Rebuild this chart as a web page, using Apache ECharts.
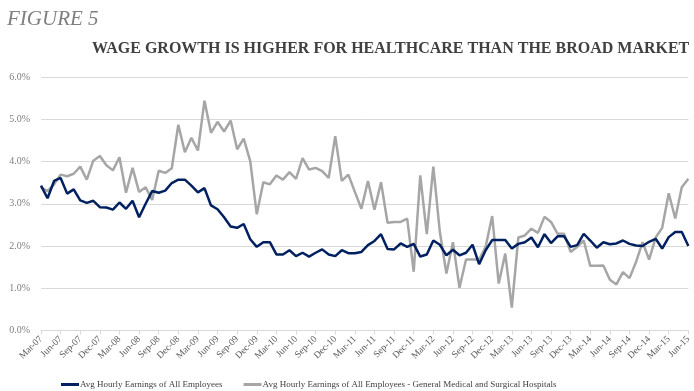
<!DOCTYPE html>
<html>
<head>
<meta charset="utf-8">
<script src="https://cdn.jsdelivr.net/npm/echarts@6/dist/echarts.min.js"></script>
<style>
html,body{margin:0;padding:0;background:#fff;}
#chart{width:694px;height:391px;}
</style>
</head>
<body>
<div id="chart"></div>
<script>
var categories = [
"Mar-07","Apr-07","May-07","Jun-07","Jul-07","Aug-07","Sep-07","Oct-07","Nov-07","Dec-07",
"Jan-08","Feb-08","Mar-08","Apr-08","May-08","Jun-08","Jul-08","Aug-08","Sep-08","Oct-08","Nov-08","Dec-08",
"Jan-09","Feb-09","Mar-09","Apr-09","May-09","Jun-09","Jul-09","Aug-09","Sep-09","Oct-09","Nov-09","Dec-09",
"Jan-10","Feb-10","Mar-10","Apr-10","May-10","Jun-10","Jul-10","Aug-10","Sep-10","Oct-10","Nov-10","Dec-10",
"Jan-11","Feb-11","Mar-11","Apr-11","May-11","Jun-11","Jul-11","Aug-11","Sep-11","Oct-11","Nov-11","Dec-11",
"Jan-12","Feb-12","Mar-12","Apr-12","May-12","Jun-12","Jul-12","Aug-12","Sep-12","Oct-12","Nov-12","Dec-12",
"Jan-13","Feb-13","Mar-13","Apr-13","May-13","Jun-13","Jul-13","Aug-13","Sep-13","Oct-13","Nov-13","Dec-13",
"Jan-14","Feb-14","Mar-14","Apr-14","May-14","Jun-14","Jul-14","Aug-14","Sep-14","Oct-14","Nov-14","Dec-14",
"Jan-15","Feb-15","Mar-15","Apr-15","May-15","Jun-15"
];

var allEmployees = [
3.43,3.13,3.54,3.61,3.24,3.34,3.08,3.02,3.07,2.92,
2.91,2.86,3.03,2.88,3.07,2.68,3.00,3.30,3.26,3.31,3.49,3.57,
3.57,3.43,3.27,3.37,2.96,2.87,2.68,2.46,2.43,2.52,2.16,1.98,
2.09,2.09,1.80,1.80,1.90,1.76,1.84,1.75,1.84,1.92,1.80,1.76,
1.90,1.83,1.83,1.86,2.02,2.12,2.28,1.93,1.92,2.06,1.98,2.05,
1.75,1.80,2.13,2.03,1.78,1.91,1.78,1.84,2.03,1.57,1.90,2.14,
2.14,2.14,1.94,2.05,2.09,2.20,1.97,2.28,2.07,2.23,2.23,1.98,
2.02,2.29,2.13,1.96,2.09,2.04,2.06,2.13,2.05,2.01,2.00,2.10,
2.17,1.94,2.21,2.33,2.33,2.00
];

var hospitals = [
3.39,3.30,3.46,3.69,3.65,3.71,3.88,3.57,4.02,4.13,
3.91,3.79,4.10,3.26,3.85,3.28,3.39,3.09,3.78,3.73,3.84,4.87,
4.22,4.56,4.26,5.44,4.68,4.94,4.71,4.97,4.29,4.54,4.01,2.75,
3.51,3.46,3.67,3.57,3.75,3.59,4.08,3.81,3.85,3.77,3.61,4.60,
3.54,3.69,3.28,2.88,3.54,2.86,3.51,2.55,2.57,2.57,2.65,1.39,
3.67,2.28,3.88,2.33,1.35,2.09,1.01,1.68,1.68,1.68,1.98,2.71,
1.11,1.82,0.54,2.20,2.25,2.41,2.31,2.69,2.57,2.29,2.29,1.86,
1.98,2.13,1.53,1.53,1.54,1.20,1.09,1.38,1.24,1.62,2.09,1.68,
2.20,2.43,3.25,2.65,3.39,3.59
];

var seriesNames = [
"Avg Hourly Earnings of All Employees",
"Avg Hourly Earnings of All Employees - General Medical and Surgical Hospitals"
];
var yTicks = [0,1,2,3,4,5,6];

var serif = "'Liberation Serif','DejaVu Serif',serif";
var chart = echarts.init(document.getElementById('chart'), null, {renderer:'canvas'});
chart.setOption({
  animation:false,
  backgroundColor:'#ffffff',
  title:[
    {text:'FIGURE 5', left:7, top:9, padding:0, textStyle:{fontFamily:serif, fontStyle:'italic', fontWeight:'normal', fontSize:21, color:'#7f7f7f'}},
    {text:'WAGE GROWTH IS HIGHER FOR HEALTHCARE THAN THE BROAD MARKET', left:92, top:41, padding:0, textStyle:{fontFamily:serif, fontWeight:'bold', fontSize:16, color:'#404040'}}
  ],
  legend:{
    left:61, top:380, padding:0, width:1400, itemWidth:18, itemHeight:3, itemGap:21, icon:'rect',
    textStyle:{fontFamily:serif, fontSize:9, color:'#404040', padding:[0,0,0,-4]},
    data:seriesNames
  },
  grid:{left:41, right:0, top:77, bottom:60.5, containLabel:false},
  xAxis:{
    type:'category', data:categories, boundaryGap:false,
    axisLine:{lineStyle:{color:'#d9d9d9', width:1}},
    axisTick:{show:true, interval:2, length:4, lineStyle:{color:'#d9d9d9'}},
    axisLabel:{interval:2, rotate:45, fontFamily:serif, fontSize:9.5, color:'#595959', margin:7},
    splitLine:{show:false}
  },
  yAxis:{
    type:'value', min:yTicks[0], max:yTicks[yTicks.length-1], interval:1,
    axisLine:{show:false}, axisTick:{show:false},
    axisLabel:{fontFamily:serif, fontSize:10, color:'#7f7f7f', margin:11, formatter:function(v){return v.toFixed(1)+'%';}},
    splitLine:{lineStyle:{color:'#d9d9d9', width:1}}
  },
  series:[
    {name:seriesNames[0], type:'line', data:allEmployees, showSymbol:false, symbol:'none', lineStyle:{color:'#002060', width:2.5}, itemStyle:{color:'#002060'}, z:3},
    {name:seriesNames[1], type:'line', data:hospitals, showSymbol:false, symbol:'none', lineStyle:{color:'#a6a6a6', width:2.5}, itemStyle:{color:'#a6a6a6'}, z:2}
  ]
});
</script>
</body>
</html>
